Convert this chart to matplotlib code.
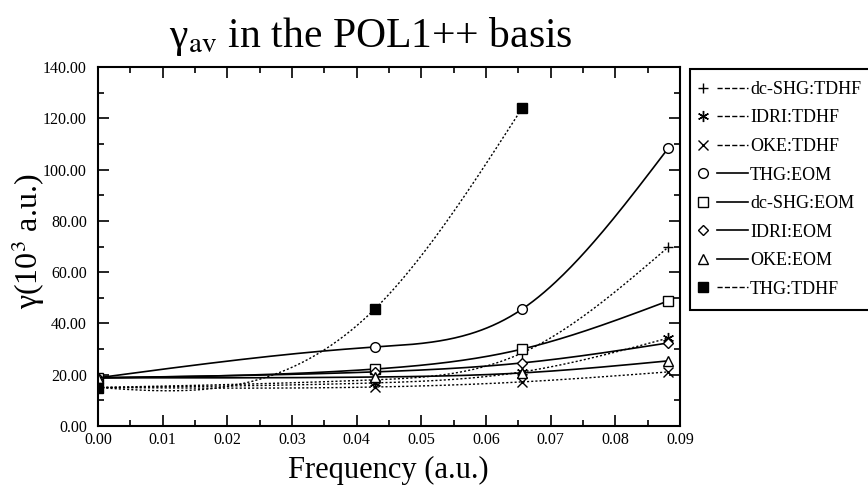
import numpy as np
import matplotlib
matplotlib.use('Agg')
import matplotlib.pyplot as plt
from matplotlib.lines import Line2D
from matplotlib.legend_handler import HandlerBase
from matplotlib.ticker import MultipleLocator, FormatStrFormatter

plt.rcParams['font.family'] = ['Liberation Serif', 'DejaVu Serif']
plt.rcParams['mathtext.fontset'] = 'stix'

# frequencies (a.u.)
freq = [0.0, 0.0428, 0.0656, 0.0882]
freq_thg_tdhf = [0.0, 0.0428, 0.0656]

# gamma values (10^3 a.u.)
dcshg_tdhf = [15.0, 18.0, 28.5, 69.8]
idri_tdhf = [15.0, 16.8, 21.1, 34.3]
oke_tdhf = [15.0, 15.2, 17.2, 21.1]
thg_eom = [18.8, 30.8, 45.6, 108.4]
dcshg_eom = [18.8, 22.2, 30.0, 48.8]
idri_eom = [18.8, 21.1, 24.6, 32.4]
oke_eom = [18.8, 19.1, 20.7, 25.4]
thg_tdhf = [15.0, 45.6, 124.0]

labels = ['dc-SHG:TDHF', 'IDRI:TDHF', 'OKE:TDHF', 'THG:EOM',
          'dc-SHG:EOM', 'IDRI:EOM', 'OKE:EOM', 'THG:TDHF']


def natural_spline(x, y, n=300):
    # natural cubic spline through the points, for drawing the curve
    x = np.asarray(x, float)
    y = np.asarray(y, float)
    k = len(x)
    h = np.diff(x)
    A = np.zeros((k, k))
    r = np.zeros(k)
    A[0, 0] = 1
    A[-1, -1] = 1
    for i in range(1, k - 1):
        A[i, i - 1] = h[i - 1]
        A[i, i] = 2 * (h[i - 1] + h[i])
        A[i, i + 1] = h[i]
        r[i] = 6 * ((y[i + 1] - y[i]) / h[i] - (y[i] - y[i - 1]) / h[i - 1])
    M = np.linalg.solve(A, r)
    xs = np.linspace(x[0], x[-1], n)
    idx = np.clip(np.searchsorted(x, xs) - 1, 0, k - 2)
    x0, x1 = x[idx], x[idx + 1]
    hh = x1 - x0
    a = (x1 - xs) / hh
    b = (xs - x0) / hh
    ys = (a * y[idx] + b * y[idx + 1]
          + ((a ** 3 - a) * M[idx] + (b ** 3 - b) * M[idx + 1]) * hh ** 2 / 6)
    return xs, ys


class MarkerThenLine(HandlerBase):
    # legend entry: symbol on the left, line sample on the right
    def create_artists(self, legend, orig_handle, xdescent, ydescent,
                       width, height, fontsize, trans):
        y = height / 2 - ydescent
        m = Line2D([width * 0.02 - xdescent], [y], linestyle='none',
                   marker=orig_handle.get_marker(),
                   markersize=orig_handle.get_markersize(),
                   markerfacecolor=orig_handle.get_markerfacecolor(),
                   markeredgecolor='black', markeredgewidth=1.0)
        l = Line2D([width * 0.33 - xdescent, width - xdescent], [y, y],
                   color='black', linewidth=orig_handle.get_linewidth(),
                   linestyle=orig_handle.get_linestyle())
        m.set_transform(trans)
        l.set_transform(trans)
        return [m, l]


dot = (0, (1.5, 1.5))
asterisk = (6, 2, 0)
series = [
    (freq, dcshg_tdhf, '+', 'black', dot, 7),
    (freq, idri_tdhf, asterisk, 'black', dot, 8),
    (freq, oke_tdhf, 'x', 'black', dot, 7),
    (freq, thg_eom, 'o', 'white', '-', 7),
    (freq, dcshg_eom, 's', 'white', '-', 7),
    (freq, idri_eom, 'D', 'white', '-', 5.5),
    (freq, oke_eom, '^', 'white', '-', 7),
    (freq_thg_tdhf, thg_tdhf, 's', 'black', dot, 6.5),
]

fig = plt.figure(figsize=(8.68, 4.87), dpi=100)
ax = fig.add_axes([98 / 868, 1 - 426 / 487, 582 / 868, 359 / 487])

handles = []
for (x, y, mk, fc, ls, ms), lab in zip(series, labels):
    lw = 1.0 if ls == dot else 1.2
    xs, ys = natural_spline(x, y)
    ax.plot(xs, ys, color='black', linestyle=ls, linewidth=lw)
    ax.plot(x, y, linestyle='none', marker=mk, markersize=ms,
            markerfacecolor=fc, markeredgecolor='black', markeredgewidth=1.0)
    handles.append(Line2D([], [], color='black', linestyle=ls, linewidth=lw,
                          marker=mk, markersize=ms, markerfacecolor=fc,
                          label=lab))

ax.set_xlim(0, 0.09)
ax.set_ylim(0, 140)
ax.xaxis.set_major_locator(MultipleLocator(0.01))
ax.xaxis.set_minor_locator(MultipleLocator(0.005))
ax.yaxis.set_major_locator(MultipleLocator(20))
ax.yaxis.set_minor_locator(MultipleLocator(10))
ax.xaxis.set_major_formatter(FormatStrFormatter('%.2f'))
ax.yaxis.set_major_formatter(FormatStrFormatter('%.2f'))
ax.tick_params(which='both', direction='in', top=True, right=True,
               labelsize=11.5, width=1.2)
ax.tick_params(which='major', length=8)
ax.tick_params(which='minor', length=4)
ax.tick_params(axis='x', pad=4)
ax.tick_params(axis='y', pad=8)
for s in ax.spines.values():
    s.set_linewidth(1.5)

fig.text(388 / 868, 1 - 478 / 487, 'Frequency (a.u.)', fontsize=22,
         ha='center', va='baseline')
fig.text(28 / 868, 1 - 241 / 487, 'γ(10$^3$ a.u.)', fontsize=23,
         rotation=90, ha='center', va='center')
fig.text(371 / 868, 1 - 47 / 487, 'γ$_{\\rm av}$ in the POL1++ basis',
         fontsize=30, ha='center', va='baseline')

leg = fig.legend(handles=handles, loc='upper left',
                 bbox_to_anchor=(690 / 868, 1 - 69 / 487),
                 handler_map={Line2D: MarkerThenLine()},
                 fontsize=13, frameon=True, fancybox=False, framealpha=1,
                 edgecolor='black', borderpad=0.66, borderaxespad=0,
                 handlelength=2.55, handletextpad=0.12, labelspacing=0.64)
leg.get_frame().set_linewidth(1.5)

fig.savefig('out.png', dpi=100)
